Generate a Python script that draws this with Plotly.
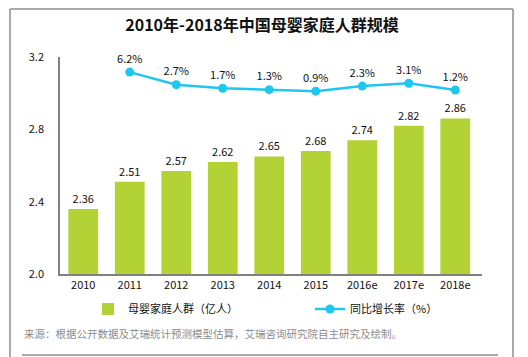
import plotly.graph_objects as go

years = ["2010", "2011", "2012", "2013", "2014", "2015", "2016e", "2017e", "2018e"]
population = [2.36, 2.51, 2.57, 2.62, 2.65, 2.68, 2.74, 2.82, 2.86]
growth_years = ["2011", "2012", "2013", "2014", "2015", "2016e", "2017e", "2018e"]
growth = [6.2, 2.7, 1.7, 1.3, 0.9, 2.3, 3.1, 1.2]

title_text = "2010年-2018年中国母婴家庭人群规模"
bar_name = "母婴家庭人群（亿人）"
line_name = "同比增长率（%）"
source_text = "来源：根据公开数据及艾瑞统计预测模型估算，艾瑞咨询研究院自主研究及绘制。"

FONT = "Noto Sans CJK SC"
BAR_COLOR = "#B2D235"
LINE_COLOR = "#1EC6F0"

fig = go.Figure()
fig.add_trace(go.Bar(
    x=years, y=population, name=bar_name, legend="legend",
    marker=dict(color=BAR_COLOR, line=dict(width=0)),
    width=0.64,
    text=[f"{v:.2f}" for v in population], textposition="outside",
    textfont=dict(size=11, color="#111111", family=FONT),
    cliponaxis=False,
))
fig.add_trace(go.Scatter(
    x=growth_years, y=growth, name=line_name, yaxis="y2", legend="legend2",
    mode="lines+markers+text",
    line=dict(color=LINE_COLOR, width=2.5),
    marker=dict(color=LINE_COLOR, size=9),
    text=[f"{v}%" for v in growth], textposition="top center",
    textfont=dict(size=11, color="#111111", family=FONT),
    cliponaxis=False,
))

W, H = 528, 357
L, R, T, B = 60, 46, 57, 83
pw, ph = W - L - R, H - T - B

def px(x):
    return (x - L) / pw

def py(y):
    return (H - B - y) / ph

border = dict(color="#8C8C8C", width=1.5)
shapes = [
    dict(type="line", xref="paper", yref="paper", x0=px(10), x1=px(10), y0=py(9), y1=py(360), line=border),
    dict(type="line", xref="paper", yref="paper", x0=px(513), x1=px(513), y0=py(9), y1=py(360), line=border),
    dict(type="line", xref="paper", yref="paper", x0=px(10), x1=px(513), y0=py(9), y1=py(9), line=border),
    dict(type="line", xref="paper", yref="paper", x0=px(22), x1=px(498), y0=py(355), y1=py(355), line=border),
]

legend_common = dict(orientation="h", xanchor="left", yanchor="middle", itemwidth=30,
                     font=dict(size=11, family=FONT), bgcolor="rgba(0,0,0,0)")

fig.update_layout(
    width=W, height=H,
    margin=dict(l=L, r=R, t=T, b=B, autoexpand=False),
    paper_bgcolor="white", plot_bgcolor="white",
    font=dict(family=FONT, size=11, color="#111111"),
    title=dict(text=f"<b>{title_text}</b>", x=px(262), xanchor="center", xref="paper",
               y=1 - 25 / H, yanchor="middle", font=dict(size=16, color="#111111", family=FONT)),
    xaxis=dict(showline=True, linecolor="#808080", linewidth=1.5, showgrid=False,
               ticks="", tickfont=dict(size=11, family=FONT), fixedrange=True),
    yaxis=dict(range=[2.0, 3.2], tickvals=[2.0, 2.4, 2.8, 3.2], ticktext=["2.0", "2.4", "2.8", "3.2"],
               showline=True, linecolor="#808080", linewidth=1.5, showgrid=False, zeroline=False,
               ticks="", ticklabelstandoff=12, tickfont=dict(size=11, family=FONT)),
    yaxis2=dict(overlaying="y", side="right", range=[-50, 10.4], visible=False, showgrid=False),
    showlegend=True,
    legend=dict(x=px(88), y=py(309), **legend_common),
    legend2=dict(x=px(310), y=py(309), **legend_common),
    bargap=0.36,
    shapes=shapes,
    annotations=[dict(text=source_text, xref="paper", yref="paper", x=px(22), y=py(333),
                      xanchor="left", yanchor="middle", showarrow=False,
                      font=dict(size=10.5, color="#8C8C8C", family=FONT))],
)

fig.write_html("out.html", config={"displayModeBar": False},
               post_script="document.body.style.margin='0';document.body.style.padding='0';")
